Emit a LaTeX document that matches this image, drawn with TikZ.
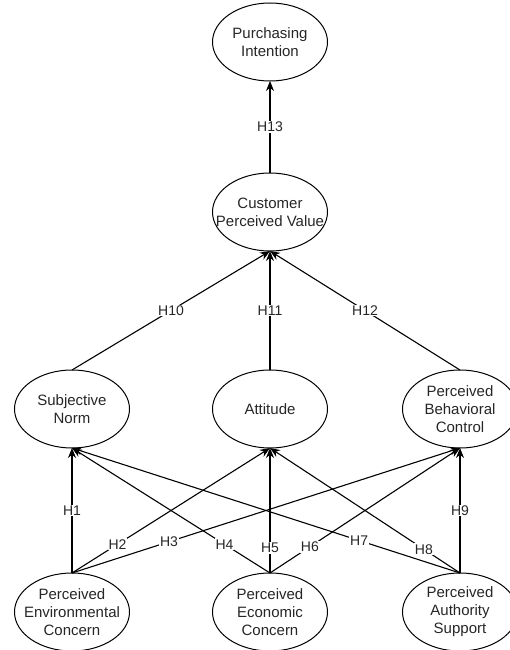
\documentclass[tikz,border=0pt]{standalone}
\usepackage{fontspec}
\setmainfont{Liberation Sans}
\usetikzlibrary{positioning,arrows.meta,shapes.geometric}

\begin{document}
\begin{tikzpicture}[node distance=2cm,
		latent/.style={draw, ellipse, line width=1pt, minimum width=115pt, minimum height=78pt, inner xsep=-15pt, inner ysep=0pt, outer sep=0pt, align=center, text=black!85, font=\fontsize{15}{18}\selectfont},
		hyp/.style={-{Stealth[length=10pt, width=8pt]}, line width=1.1pt},
		hlabel/.style={fill=white, inner sep=1pt, text=black!85, font=\fontsize{14}{16}\selectfont}]
		\useasboundingbox (-270pt,42pt) rectangle (240pt,-608pt);
		\node (intention) [latent] {Purchasing\\Intention};
		\node (value) [below of=intention, latent, node distance=170pt] {Customer\\Perceived Value};
		\node (attitude) [below of=value, latent, node distance=197pt] {Attitude};
		\node (norm) [left of=attitude, latent, node distance=198pt] {Subjective\\Norm};
		\node (control) [right of=attitude, latent, node distance=190pt] {Perceived\\Behavioral\\Control};
		\node (economic) [below of=attitude, latent, node distance=203pt] {Perceived\\Economic\\Concern};
		\node (environ) [left of=economic, latent, node distance=198pt] {Perceived\\Environmental\\Concern};
		\node (authority) [right of=economic, latent, node distance=190pt] {Perceived\\Authority\\Support};
		
		\draw[hyp] (environ.north) -- node[hlabel, pos=0.5] {H1} (norm.south);
		\draw[hyp] (environ.north) -- node[hlabel, pos=0.23] {H2} (attitude.south);
		\draw[hyp] (environ.north) -- node[hlabel, pos=0.25] {H3} (control.south);
		\draw[hyp] (economic.north) -- node[hlabel, pos=0.23] {H4} (norm.south);
		\draw[hyp] (economic.north) -- node[hlabel, pos=0.2] {H5} (attitude.south);
		\draw[hyp] (economic.north) -- node[hlabel, pos=0.21] {H6} (control.south);
		\draw[hyp] (authority.north) -- node[hlabel, pos=0.26] {H7} (norm.south);
		\draw[hyp] (authority.north) -- node[hlabel, pos=0.19] {H8} (attitude.south);
		\draw[hyp] (authority.north) -- node[hlabel, pos=0.5] {H9} (control.south);
		\draw[hyp] (norm.north) -- node[hlabel, pos=0.5] {H10} (value.south);
		\draw[hyp] (attitude.north) -- node[hlabel, pos=0.5] {H11} (value.south);
		\draw[hyp] (control.north) -- node[hlabel, pos=0.5] {H12} (value.south);
		\draw[hyp] (value.north) -- node[hlabel, pos=0.5] {H13} (intention.south);
	\end{tikzpicture}
\end{document}
